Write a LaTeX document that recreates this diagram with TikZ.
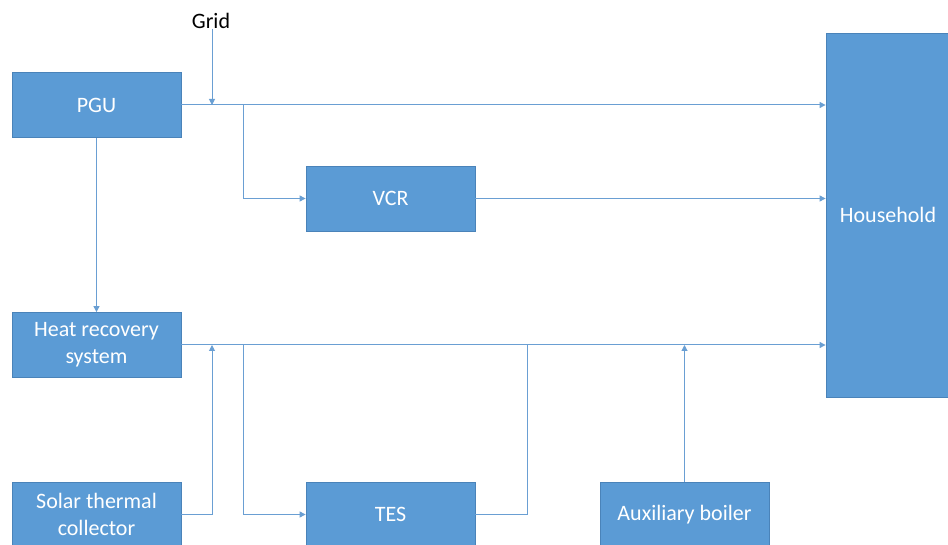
\documentclass[tikz,border=0pt]{standalone}
\usepackage{fontspec}
\setmainfont{Carlito}
\usetikzlibrary{arrows.meta}
\definecolor{boxfill}{HTML}{5B9BD5}
\definecolor{boxline}{HTML}{4A83B9}
\definecolor{conn}{HTML}{6A9FD3}
\tikzset{
  blk/.style={draw=boxline, line width=0.8pt, fill=boxfill, text=white, minimum width=169pt, minimum height=65pt, inner sep=0pt, align=center, font=\fontsize{22}{27}\selectfont},
  conline/.style={draw=conn, line width=1pt},
  arr/.style={conline, -{Triangle[length=6pt,width=6pt]}}
}
\begin{document}
\begin{tikzpicture}[x=1pt,y=-1pt]
\useasboundingbox (0,0) rectangle (948,545);
\clip (0,0) rectangle (948,545);
\node[blk] (pgu) at (96.5,105) {PGU};
\node[blk] (hrs) at (96.5,345) {Heat recovery\\system};
\node[blk] (stc) at (96.5,514.5) {Solar thermal\\collector};
\node[blk] (vcr) at (390.5,198.5) {VCR};
\node[blk] (tes) at (390.5,514.5) {TES};
\node[blk] (aux) at (684.5,514.5) {Auxiliary boiler};
\node[blk, minimum width=124pt, minimum height=364pt] (hh) at (888,215) {Household};
\node[font=\fontsize{22}{27}\selectfont, inner sep=0pt] (grid) at (211,21) {Grid};
% junctions
\coordinate (gj) at (212,105);
\coordinate (b1) at (243,105);
\coordinate (sj) at (212,345);
\coordinate (b2) at (243,345);
\coordinate (tj) at (527,345);
\coordinate (aj) at (684.5,345);
% electricity
\draw[arr] (pgu.east) -- (pgu.east -| hh.west);
\draw[arr] (grid.south -| gj) -- (gj);
\draw[arr] (b1) |- (vcr.west);
\draw[arr] (vcr.east) -- (vcr.east -| hh.west);
\draw[arr] (pgu.south) -- (hrs.north);
% heat
\draw[arr] (hrs.east) -- (hrs.east -| hh.west);
\draw[arr] (stc.east) -| (sj);
\draw[arr] (b2) |- (tes.west);
\draw[conline] (tes.east) -| (tj);
\draw[arr] (aux.north) -- (aj);
\end{tikzpicture}
\end{document}
